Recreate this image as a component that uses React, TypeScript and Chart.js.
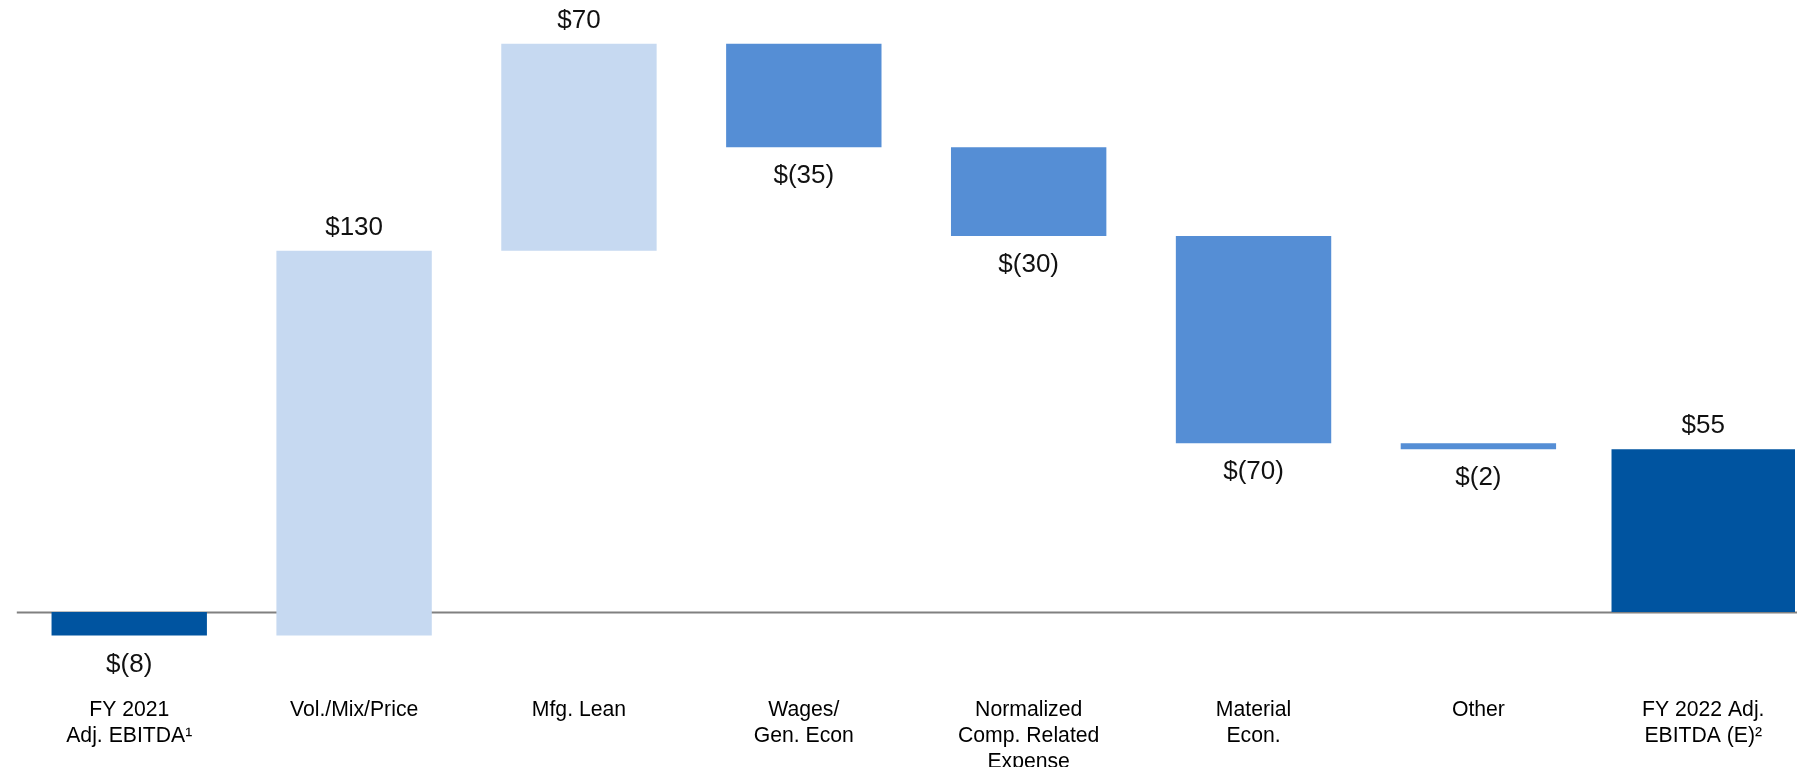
import React, { useEffect, useRef } from "react";
import { Chart, registerables } from "chart.js";

Chart.register(...registerables);

const categories: string[][] = [
  ["FY 2021", "Adj. EBITDA¹"],
  ["Vol./Mix/Price"],
  ["Mfg. Lean"],
  ["Wages/", "Gen. Econ"],
  ["Normalized", "Comp. Related", "Expense"],
  ["Material", "Econ."],
  ["Other"],
  ["FY 2022 Adj.", "EBITDA (E)²"],
];
const values: number[] = [-8, 130, 70, -35, -30, -70, -2, 55];
const isTotal: boolean[] = [true, false, false, false, false, false, false, true];

const DARK = "#0054A0";
const LIGHT = "#C6D9F1";
const MID = "#558ED5";
const FONT = "'Liberation Sans', Arial, sans-serif";

function fmt(v: number): string {
  return v < 0 ? `$(${Math.abs(v)})` : `$${v}`;
}

// build floating ranges
const ranges: ([number, number] | null)[] = [];
{
  let run = 0;
  values.forEach((v, i) => {
    if (isTotal[i]) {
      ranges.push([0, v]);
      run = v;
    } else {
      ranges.push([run, run + v]);
      run += v;
    }
  });
}
const lastIdx = values.length - 1;
const stepData = ranges.map((r, i) => (i === lastIdx ? null : r));
const finalData = ranges.map((r, i) => (i === lastIdx ? r : null));
const colors = values.map((v, i) => (isTotal[i] ? DARK : v > 0 ? LIGHT : MID));

const zeroLine = {
  id: "zeroLine",
  beforeDatasetsDraw(chart: any) {
    const { ctx, chartArea, scales } = chart;
    const y = Math.round(scales.y.getPixelForValue(0)) + 0.5;
    ctx.save();
    ctx.strokeStyle = "#808080";
    ctx.lineWidth = 2;
    ctx.beginPath();
    ctx.moveTo(chartArea.left, y);
    ctx.lineTo(chartArea.right, y);
    ctx.stroke();
    ctx.restore();
  },
};

const valueLabels = {
  id: "valueLabels",
  afterDatasetsDraw(chart: any) {
    const { ctx } = chart;
    ctx.save();
    ctx.font = `26px ${FONT}`;
    ctx.fillStyle = "#111111";
    ctx.textAlign = "center";
    ctx.textBaseline = "middle";
    chart.data.datasets.forEach((ds: any, di: number) => {
      const meta = chart.getDatasetMeta(di);
      meta.data.forEach((el: any, i: number) => {
        if (ds.data[i] == null) return;
        const v = values[i];
        const top = Math.min(el.y, el.base);
        const bottom = Math.max(el.y, el.base);
        const y = v >= 0 ? top - 23 : bottom + 29;
        ctx.fillText(fmt(v), el.x, y);
      });
    });
    ctx.restore();
  },
};

export default function App() {
  const ref = useRef<HTMLCanvasElement>(null);
  useEffect(() => {
    if (!ref.current) return;
    const chart = new Chart(ref.current, {
      type: "bar",
      data: {
        labels: categories,
        datasets: [
          {
            data: stepData as any,
            backgroundColor: colors,
            borderWidth: 0,
            barPercentage: 0.691,
            categoryPercentage: 1,
            grouped: false,
          },
          {
            data: finalData as any,
            backgroundColor: colors,
            borderWidth: 0,
            barPercentage: 0.816,
            categoryPercentage: 1,
            grouped: false,
          },
        ],
      },
      options: {
        responsive: false,
        animation: false,
        layout: { padding: { left: 16.8, right: 0, top: 20, bottom: 0 } },
        plugins: {
          legend: { display: false },
          tooltip: { enabled: false },
          title: { display: false },
        },
        scales: {
          x: {
            grid: { display: false, drawTicks: false },
            border: { display: false },
            ticks: {
              autoSkip: false,
              maxRotation: 0,
              padding: 55.5,
              color: "#000000",
              font: { family: FONT, size: 21.2, lineHeight: 26 / 21.2 },
            },
            afterFit: (scale: any) => {
              scale.height = 125.5;
            },
          },
          y: {
            display: false,
            min: -10,
            max: 200,
          },
        },
      },
      plugins: [zeroLine, valueLabels],
    });
    return () => chart.destroy();
  }, []);
  return (
    <div
      style={{
        position: "fixed",
        left: 0,
        top: 0,
        width: 1797,
        height: 767,
        overflow: "hidden",
        background: "#ffffff",
      }}
    >
      <canvas ref={ref} width={1820} height={767} style={{ display: "block" }} />
    </div>
  );
}
